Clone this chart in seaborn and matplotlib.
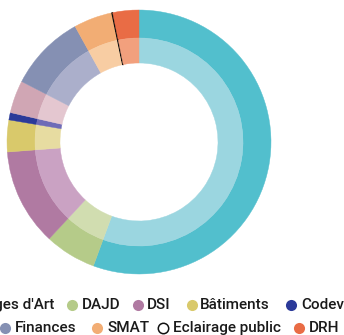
import matplotlib
matplotlib.use("Agg")
import matplotlib.pyplot as plt
import seaborn as sns

# Budget share per service (%), clockwise from the top
services = ["Ouvrages d'Art", "DAJD", "DSI", "Bâtiments", "Codev",
            "Culture", "Finances", "SMAT", "Eclairage public", "DRH"]
shares = [55.7, 6.3, 11.9, 3.9, 0.9, 4.0, 9.4, 4.75, 0.1, 3.2]

outer_colors = ["#52BFCD", "#B5CB89", "#B07AA2", "#D9C96B", "#2B3A99",
                "#D0A6B4", "#8590B3", "#F2AD74", "#FFFFFF", "#E96C45"]
inner_colors = ["#9BD6E0", "#D1DDB0", "#CAA2C3", "#E7DCA1", "#6E6BB7",
                "#E4C7D0", "#ABAFCB", "#F8CDA3", "#FFFFFF", "#F2A07D"]

# Legend layout: two rows of (service index, marker x, text x)
legend_row1 = [(0, None, 54), (1, 72, 82), (2, 138, 147), (3, 192, 200), (4, 291, 301)]
legend_row2 = [(5, None, -8), (6, 5, 15), (7, 97, 107), (8, 163, 173), (9, 299, 309)]

sns.set_theme(style="white")
plt.rcParams["font.family"] = ["Roboto", "DejaVu Sans"]

W, H = 344, 335
fig = plt.figure(figsize=(W / 100, H / 100), dpi=100)
fig.patch.set_facecolor("white")

# Donut axes: centre (139, 142) px, outer radius 132 px
R = 132
cx, cy = 139, 142
ax = fig.add_axes([(cx - R) / W, (H - cy - R) / H, 2 * R / W, 2 * R / H])

def ring(colors, radius, width):
    wedges, _ = ax.pie(shares, colors=colors, radius=radius, startangle=90,
                       counterclock=False,
                       wedgeprops=dict(width=width, linewidth=0.3,
                                       antialiased=True))
    for w, c in zip(wedges, colors):
        w.set_edgecolor(c)
    return wedges

outer = ring(outer_colors, 1.0, 28 / R)
inner = ring(inner_colors, 104 / R, 25 / R)
for w in (outer[8], inner[8]):
    w.set_edgecolor("#111111")
    w.set_linewidth(0.9)

ax.set_xlim(-1, 1)
ax.set_ylim(-1, 1)
ax.set_aspect("equal")
ax.axis("off")

# Legend drawn in pixel coordinates
lax = fig.add_axes([0, 0, 1, 1])
lax.set_xlim(0, W)
lax.set_ylim(H, 0)
lax.axis("off")
lax.patch.set_alpha(0)

def legend_row(items, y):
    for idx, mx, tx in items:
        name = services[idx]
        if mx is None:
            # label runs past the left edge, its marker is off the canvas
            lax.text(tx, y, name, ha="right", va="center", fontsize=11,
                     fontweight="medium", color="#1a1a1a")
            continue
        if name == "Eclairage public":
            lax.plot([mx], [y], marker="o", ms=7.5, mfc="white", mec="#111111",
                     mew=1.1, ls="none")
        else:
            lax.plot([mx], [y], marker="o", ms=8, color=outer_colors[idx],
                     mec="none", ls="none")
        lax.text(tx, y, name, ha="left", va="center", fontsize=11,
                 fontweight="medium", color="#1a1a1a")

legend_row(legend_row1, 305)
legend_row(legend_row2, 328)

fig.savefig("out.png", dpi=100, facecolor="white")
